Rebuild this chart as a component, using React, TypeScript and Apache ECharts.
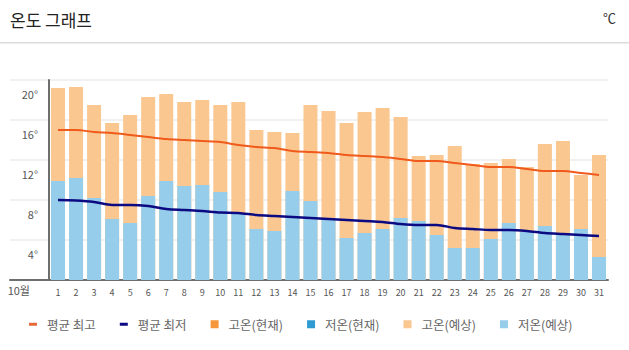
import React, { useEffect, useRef } from "react";
import * as echarts from "echarts";

const days = Array.from({ length: 31 }, (_, i) => String(i + 1));
const highForecast = [19.2, 19.3, 17.5, 15.7, 16.5, 18.3, 18.6, 17.8, 18.0, 17.5, 17.8, 15.0, 14.8, 14.7, 17.5, 16.9, 15.7, 16.8, 17.2, 16.3, 12.4, 12.5, 13.4, 11.6, 11.7, 12.1, 11.3, 13.6, 13.9, 10.5, 12.5];
const lowForecast = [9.9, 10.2, 8.2, 6.1, 5.7, 8.4, 9.9, 9.4, 9.5, 8.8, 6.6, 5.1, 4.9, 8.9, 7.9, 6.2, 4.2, 4.7, 5.1, 6.2, 5.9, 4.5, 3.2, 3.2, 4.1, 5.7, 4.8, 5.4, 4.7, 5.1, 2.3];
const highCurrent: (number | null)[] = [];
const lowCurrent: (number | null)[] = [];
const avgHigh = [15.0, 15.0, 14.8, 14.7, 14.5, 14.3, 14.1, 14.0, 13.9, 13.8, 13.5, 13.3, 13.2, 12.9, 12.8, 12.7, 12.5, 12.4, 12.3, 12.1, 11.9, 11.9, 11.7, 11.5, 11.3, 11.3, 11.1, 10.9, 10.9, 10.7, 10.5];
const avgLow = [8.0, 7.95, 7.8, 7.5, 7.5, 7.4, 7.1, 7.0, 6.9, 6.75, 6.7, 6.5, 6.4, 6.3, 6.2, 6.1, 6.0, 5.9, 5.8, 5.6, 5.5, 5.5, 5.2, 5.1, 5.0, 5.0, 4.9, 4.7, 4.6, 4.5, 4.4];
const monthLabel = "10월";
const titleText = "온도 그래프";
const unitText = "℃";

const FONT = "'Noto Sans CJK KR', 'Noto Sans', sans-serif";
const DASH = "path://M0,0L8,0L8,3L0,3Z";

export default function App() {
  const ref = useRef<HTMLDivElement>(null);
  useEffect(() => {
    if (!ref.current) return;
    const chart = echarts.init(ref.current, undefined, { renderer: "svg" });
    chart.setOption({
      animation: false,
      textStyle: { fontFamily: FONT },
      title: {
        text: titleText,
        left: 10,
        top: 11,
        padding: 0,
        textStyle: { fontSize: 17, fontWeight: "normal", color: "#222", fontFamily: FONT },
      },
      graphic: [
        {
          type: "text",
          right: 13,
          top: 11,
          style: { text: unitText, fontSize: 13, fill: "#333", fontFamily: FONT },
        },
        {
          type: "rect",
          left: 0,
          top: 42,
          shape: { width: 629, height: 1.5 },
          style: { fill: "#dcdcdc" },
        },
      ],
      legend: {
        left: 29,
        top: 318,
        padding: 0,
        itemWidth: 8,
        itemHeight: 8,
        itemGap: 24,
        symbolKeepAspect: true,
        textStyle: { fontSize: 12.5, color: "#666", fontFamily: FONT, padding: [0, 0, 0, 5] },
        data: [
          { name: "평균 최고", icon: DASH, itemStyle: { color: "#e46a38" } },
          { name: "평균 최저", icon: DASH, itemStyle: { color: "#0b0a82" } },
          { name: "고온(현재)", icon: "rect" },
          { name: "저온(현재)", icon: "rect" },
          { name: "고온(예상)", icon: "rect" },
          { name: "저온(예상)", icon: "rect" },
        ],
      },
      grid: [
        { left: 10, right: 21, top: 80, bottom: 70 },
        { left: 49, right: 21, top: 80, bottom: 70 },
      ],
      xAxis: [
        {
          gridIndex: 0,
          type: "value",
          min: 0,
          max: 1,
          axisLine: { show: true, lineStyle: { color: "#6e6e6e", width: 2 } },
          axisTick: { show: false },
          axisLabel: { show: false },
          splitLine: { show: false },
        },
        {
          gridIndex: 1,
          type: "category",
          data: days,
          axisLine: { show: false },
          axisTick: { show: false },
          axisLabel: { fontSize: 9, color: "#555", margin: 8, fontFamily: FONT },
        },
      ],
      yAxis: [
        {
          gridIndex: 0,
          type: "value",
          min: 0,
          max: 20,
          interval: 4,
          axisLine: { show: false },
          axisTick: { show: false },
          splitLine: { show: true, lineStyle: { color: "#ececec", width: 1.5 } },
          axisLabel: {
            inside: true,
            margin: 28,
            align: "right",
            verticalAlign: "top",
            color: "#555",
            fontSize: 11,
            fontFamily: FONT,
            formatter: (v: number) => (v === 0 ? "{b|" + monthLabel + "}" : "{a|" + v + "°}"),
            rich: {
              a: { padding: [9, 0, 0, 0], fontSize: 11, color: "#555", fontFamily: FONT },
              b: { padding: [5, 8, 0, 0], fontSize: 11, color: "#555", fontFamily: FONT },
            },
          },
        },
        {
          gridIndex: 1,
          type: "value",
          min: 0,
          max: 20,
          interval: 4,
          axisLine: { show: true, lineStyle: { color: "#6e6e6e", width: 2 } },
          axisTick: { show: false },
          axisLabel: { show: false },
          splitLine: { show: false },
        },
      ],
      series: [
        {
          name: "고온(예상)",
          type: "bar",
          xAxisIndex: 1,
          yAxisIndex: 1,
          data: highForecast,
          barWidth: 14,
          barGap: "-100%",
          itemStyle: { color: "#f9c78f" },
        },
        {
          name: "저온(예상)",
          type: "bar",
          xAxisIndex: 1,
          yAxisIndex: 1,
          data: lowForecast,
          barWidth: 14,
          barGap: "-100%",
          itemStyle: { color: "#95cdea" },
        },
        {
          name: "고온(현재)",
          type: "bar",
          xAxisIndex: 1,
          yAxisIndex: 1,
          data: highCurrent,
          barWidth: 14,
          barGap: "-100%",
          itemStyle: { color: "#f5973a" },
        },
        {
          name: "저온(현재)",
          type: "bar",
          xAxisIndex: 1,
          yAxisIndex: 1,
          data: lowCurrent,
          barWidth: 14,
          barGap: "-100%",
          itemStyle: { color: "#2e9bd2" },
        },
        {
          name: "평균 최고",
          type: "line",
          xAxisIndex: 1,
          yAxisIndex: 1,
          data: avgHigh,
          symbol: "none",
          smooth: 0.3,
          z: 5,
          lineStyle: { color: "#f05a1c", width: 2 },
          itemStyle: { color: "#f05a1c" },
        },
        {
          name: "평균 최저",
          type: "line",
          xAxisIndex: 1,
          yAxisIndex: 1,
          data: avgLow,
          symbol: "none",
          smooth: 0.3,
          z: 5,
          lineStyle: { color: "#0b0a82", width: 2.5 },
          itemStyle: { color: "#0b0a82" },
        },
      ],
    });
    return () => chart.dispose();
  }, []);
  return (
    <div
      ref={ref}
      style={{ position: "absolute", left: 0, top: 0, width: 629, height: 350, background: "#fff" }}
    />
  );
}
